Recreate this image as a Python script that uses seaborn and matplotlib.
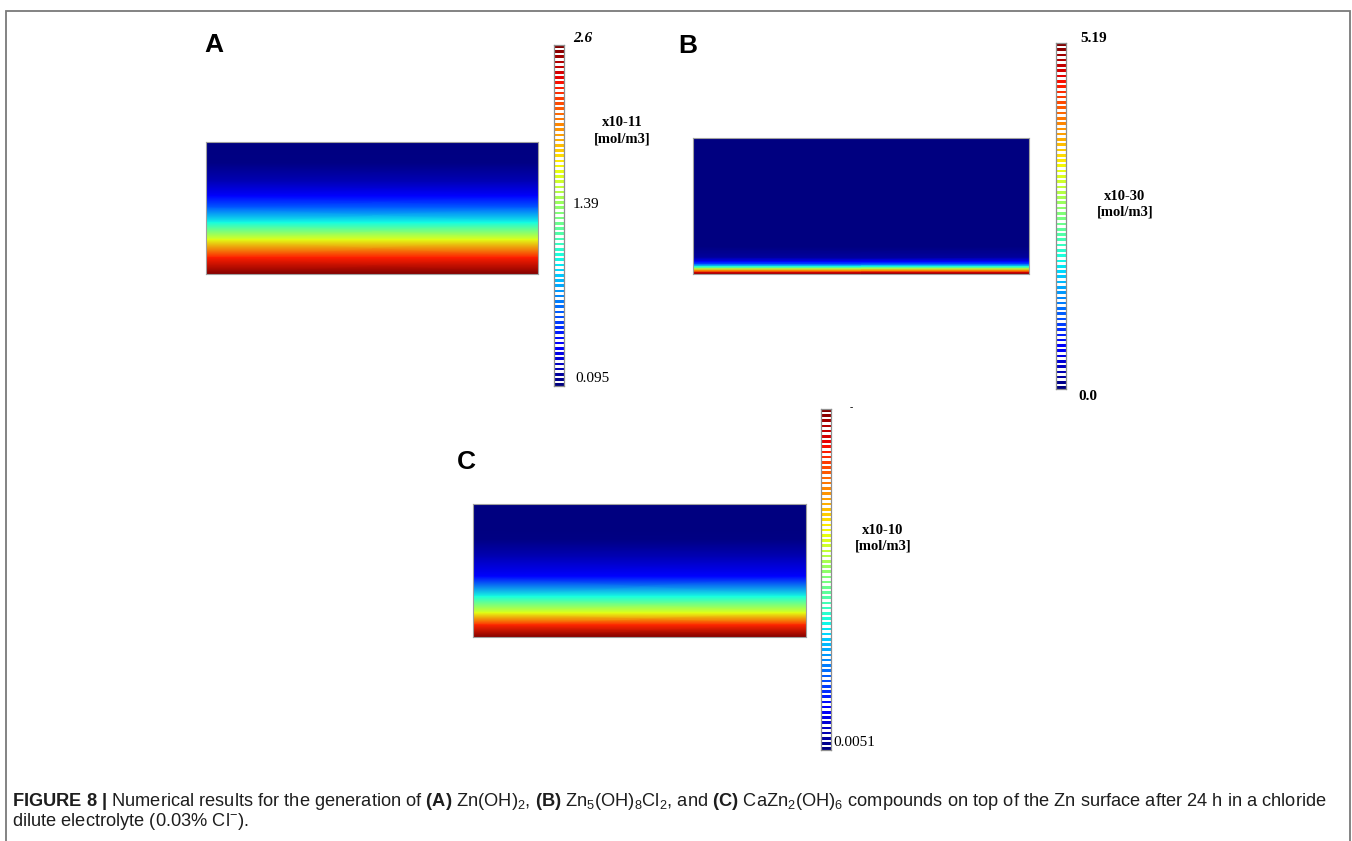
import numpy as np
import pandas as pd
import matplotlib
matplotlib.use("Agg")
import matplotlib.pyplot as plt
from matplotlib import font_manager
from matplotlib.patches import Rectangle
import seaborn as sns

# ---------------- data ----------------
# depth = fraction of the domain height measured from the top; values in colorbar units
A_depth = [0.0, 0.16, 0.30, 0.41, 0.50, 0.61, 0.74, 0.875, 1.0]
A_value = [0.095, 0.108, 0.22, 0.41, 0.65, 1.03, 1.66, 2.29, 2.6]
A_range = (0.095, 2.6)
A_ticks = ["2.6", "1.39", "0.095"]
A_unit = "x10-11"

B_depth = [0.0, 0.80, 0.88, 0.91, 0.93, 0.945, 0.96, 0.975, 0.99, 1.0]
B_value = [0.0, 0.0, 0.16, 0.57, 1.14, 1.92, 2.85, 3.89, 4.77, 5.19]
B_range = (0.0, 5.19)
B_ticks = ["5.19", "0.0"]
B_unit = "x10-30"

C_depth = [0.0, 0.20, 0.27, 0.40, 0.545, 0.695, 0.82, 0.91, 1.0]
C_value = [0.0051, 0.0051, 0.010, 0.055, 0.13, 0.38, 0.63, 0.87, 1.0]
C_range = (0.0051, 1.0)
C_ticks = ["-", "0.0051"]
C_unit = "x10-10"

unit_label = "[mol/m3]"
n_stripes = 66

sns.set_theme(style="white")
installed = {f.name for f in font_manager.fontManager.ttflist}
cap_font = "Liberation Sans Narrow" if "Liberation Sans Narrow" in installed else "Liberation Sans"
plt.rcParams["font.family"] = ["Liberation Sans", "DejaVu Sans"]
plt.rcParams["text.color"] = "black"
plt.rcParams["mathtext.fontset"] = "custom"
plt.rcParams["mathtext.rm"] = cap_font
plt.rcParams["mathtext.bf"] = cap_font + ":bold"
plt.rcParams["mathtext.it"] = cap_font + ":italic"

W, H = 1352, 841
fig = plt.figure(figsize=(W / 100, H / 100), dpi=100)
fig.patch.set_facecolor("white")


def box(x0, y0, x1, y1):
    return [x0 / W, 1 - y1 / H, (x1 - x0) / W, (y1 - y0) / H]


def field(rect, depth, value, rng):
    ax = fig.add_axes(box(*rect))
    Z = np.column_stack([value, value])
    ax.pcolormesh([0, 1], depth, Z, shading="gouraud", cmap="jet",
                  vmin=rng[0], vmax=rng[1])
    ax.set_xlim(0, 1)
    ax.set_ylim(1, 0)
    ax.set_xticks([])
    ax.set_yticks([])
    for s in ax.spines.values():
        s.set_visible(True)
        s.set_color("#a0a0a0")
        s.set_linewidth(0.8)
    return ax


def stripes(rect, rng):
    cax = fig.add_axes(box(*rect))
    levels = np.linspace(rng[1], rng[0], n_stripes)
    # colored stripe, white gap, colored stripe, ... (gaps are masked cells)
    vals = np.full(2 * n_stripes - 1, np.nan)
    vals[0::2] = levels
    df = pd.DataFrame({"v": vals})
    sns.heatmap(df, ax=cax, cmap="jet", vmin=rng[0], vmax=rng[1], cbar=False,
                mask=df.isna(), linewidths=0,
                xticklabels=False, yticklabels=False)
    cax.set_facecolor("white")
    cax.set_xlabel("")
    cax.set_ylabel("")
    for s in cax.spines.values():
        s.set_visible(True)
        s.set_color("#8f8f8f")
        s.set_linewidth(0.9)
    return cax


def ftext(x, y, s, **kw):
    kw.setdefault("color", "black")
    fig.text(x / W, 1 - y / H, s, **kw)


serif = ["Liberation Serif", "DejaVu Serif"]
sans = ["Liberation Sans", "DejaVu Sans"]

# ---------------- panel A ----------------
field((206, 142, 538, 274), A_depth, A_value, A_range)
stripes((554, 45, 564, 386), A_range)
ftext(214, 45, "A", fontsize=19, fontweight="bold", ha="center", va="center", family=sans)
ftext(573, 38, A_ticks[0], fontsize=11, fontweight="bold", style="italic",
      ha="left", va="center", family=serif)
ftext(573, 205, A_ticks[1], fontsize=11, ha="left", va="center", family=serif)
ftext(575, 378, A_ticks[2], fontsize=11, ha="left", va="center", family=serif)
ftext(622, 123, A_unit, fontsize=10.5, fontweight="bold", ha="center", va="center", family=serif)
ftext(622, 139, unit_label, fontsize=10.5, fontweight="bold", ha="center", va="center", family=serif)

# ---------------- panel B ----------------
field((693, 138, 1029, 274), B_depth, B_value, B_range)
stripes((1056, 43, 1066, 389), B_range)
ftext(688, 46, "B", fontsize=19, fontweight="bold", ha="center", va="center", family=sans)
ftext(1080, 38, B_ticks[0], fontsize=11, fontweight="bold", ha="left", va="center", family=serif)
# bottom tick label is cut off at the panel edge in the reference
clip_ax = fig.add_axes(box(1070, 385, 1110, 401))
clip_ax.set_axis_off()
clip_ax.text(8 / 40, 0.25, B_ticks[1], transform=clip_ax.transAxes, fontsize=11,
             fontweight="bold", ha="left", va="center", family=serif,
             color="black", clip_on=True)

ftext(1125, 196, B_unit, fontsize=10.5, fontweight="bold", ha="center", va="center", family=serif)
ftext(1125, 212, unit_label, fontsize=10.5, fontweight="bold", ha="center", va="center", family=serif)

# ---------------- panel C ----------------
field((473, 504, 806, 637), C_depth, C_value, C_range)
stripes((821, 409, 831, 750), C_range)
ftext(466, 462, "C", fontsize=19, fontweight="bold", ha="center", va="center", family=sans)
ftext(850, 408, C_ticks[0], fontsize=7, ha="left", va="center", family=serif)
ftext(833, 743, C_ticks[1], fontsize=11, ha="left", va="center", family=serif)
ftext(883, 530, C_unit, fontsize=10.5, fontweight="bold", ha="center", va="center", family=serif)
ftext(883, 546, unit_label, fontsize=10.5, fontweight="bold", ha="center", va="center", family=serif)

# ---------------- frame ----------------
fig.patches.append(Rectangle((6 / W, -0.05), (1350 - 6) / W, 1.05 - 11 / H,
                             transform=fig.transFigure, fill=False,
                             edgecolor="#7a7a7a", linewidth=1.3))

# ---------------- caption ----------------
line1 = (r"$\mathbf{FIGURE\ 8\ |}$ Numerical results for the generation of "
         r"$\mathbf{(A)}$ Zn(OH)$_2$, $\mathbf{(B)}$ Zn$_5$(OH)$_8$Cl$_2$, and "
         r"$\mathbf{(C)}$ CaZn$_2$(OH)$_6$ compounds on top of the Zn surface after 24 h in a chloride")
line2 = r"dilute electrolyte (0.03% Cl$^{-}$)."
t1 = fig.text(12 / W, 1 - 801 / H, line1, fontsize=12, ha="left", va="center",
              family=[cap_font, "DejaVu Sans"], color="#1e1e1e")
t2 = fig.text(12 / W, 1 - 821 / H, line2, fontsize=12, ha="left", va="center",
              family=[cap_font, "DejaVu Sans"], color="#1e1e1e")
# fit first line to the width seen in the reference (x 12 -> 1328 px)
r = fig.canvas.get_renderer()
wpx = t1.get_window_extent(r).width
scale = (1328 - 12) / wpx
t1.set_fontsize(12 * scale)
t2.set_fontsize(12 * scale)

fig.savefig("out.png", dpi=100, facecolor="white")
